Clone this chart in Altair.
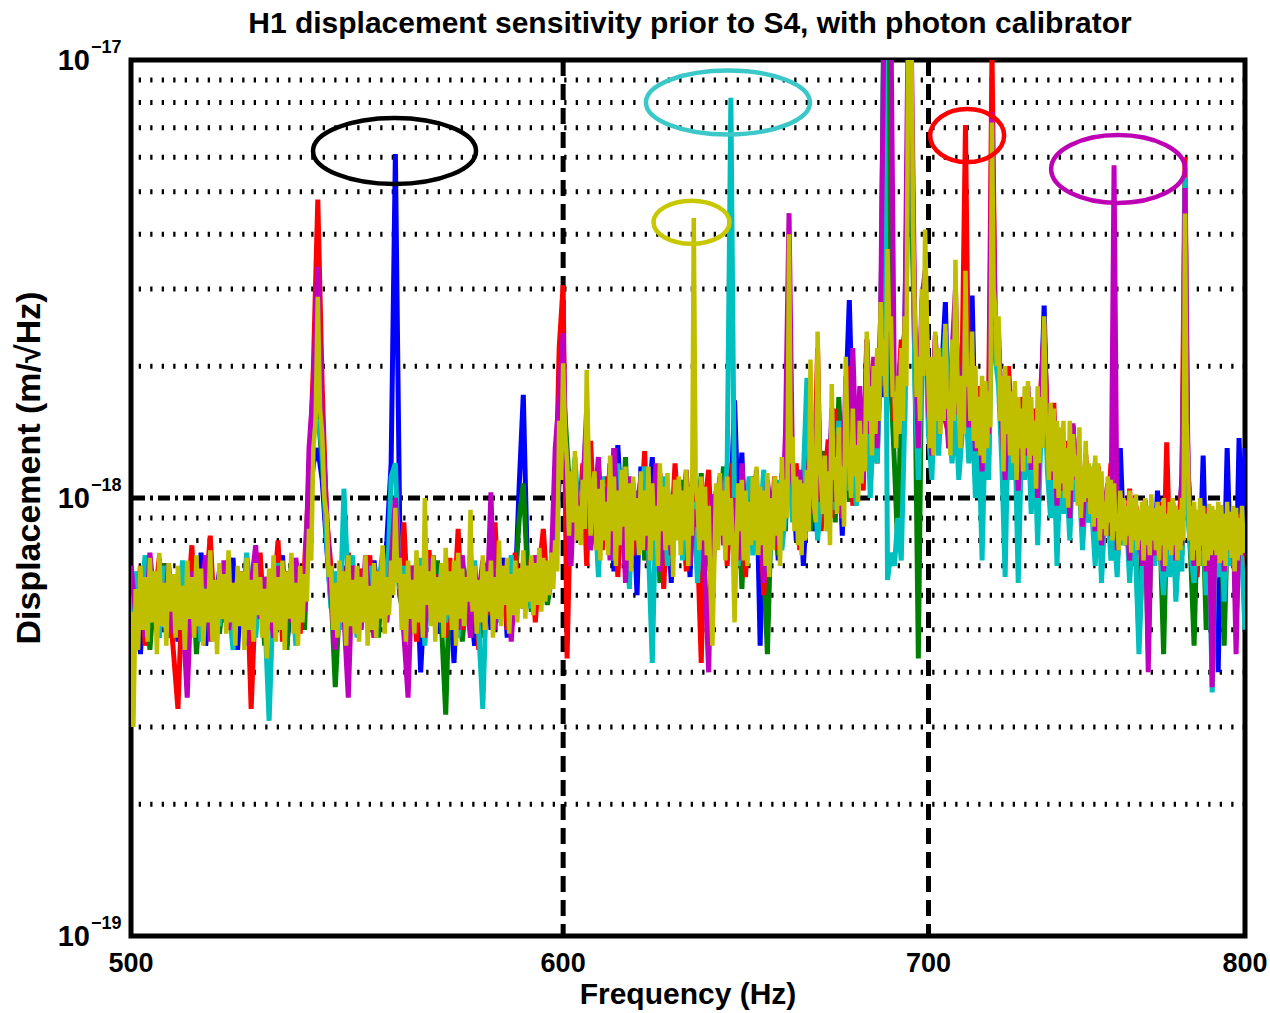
import altair as alt
import pandas as pd

# ---------------- data (amplitudes in units of 1e-20 m/sqrt(Hz)) ----------------
# blue/green/red/cyan/magenta traces: 1 Hz bins 500..800; yellow trace: 0.5 Hz bins 500..800
FREQ = list(range(500, 801))
YELLOW_FREQ = [500 + 0.5 * i for i in range(601)]
UNIT = 1e-20

BLUE = [
    58, 66, 44, 72, 55, 61, 48, 69, 53, 64,
    47, 70, 57, 62, 50, 75, 46, 63, 56, 68,
    52, 60, 73, 45, 67, 54, 49, 71, 58, 63,
    50, 66, 56, 74, 46, 61, 53, 69, 60, 95,
    120, 130, 110, 78, 58, 64, 52, 70, 48, 62,
    55, 68, 60, 50, 72, 57, 64, 80, 120, 610,
    90, 58, 66, 53, 71, 40, 62, 57, 74, 49,
    65, 55, 60, 42, 70, 52, 67, 58, 46, 63,
    56, 71, 50, 64, 59, 73, 48, 66, 62, 108,
    172, 70, 57, 66, 61, 74, 58, 68, 72, 110,
    150, 110, 92, 118, 80, 100, 140, 78, 95, 72,
    104, 86, 120, 68, 132, 90, 112, 76, 98, 60,
    118, 82, 94, 124, 70, 106, 88, 98, 64, 92,
    110, 74, 96, 66, 120, 88, 104, 70, 92, 62,
    100, 84, 112, 76, 98, 167, 92, 127, 70, 104,
    82, 116, 46, 98, 108, 88, 106, 72, 114, 90,
    140, 120, 80, 106, 70, 98, 120, 84, 104, 92,
    118, 86, 150, 96, 130, 82, 170, 283, 140, 100,
    160, 110, 210, 130, 180, 140, 230, 170, 300, 200,
    160, 130, 200, 240, 700, 600, 220, 150, 250, 300,
    170, 140, 220, 160, 200, 280, 130, 210, 190, 150,
    180, 200, 140, 290, 130, 160, 110, 175, 150, 400,
    240, 220, 140, 108, 180, 130, 165, 100, 150, 125,
    170, 110, 145, 98, 160, 275, 130, 106, 150, 95,
    140, 102, 125, 88, 146, 106, 120, 86, 112, 96,
    100, 82, 114, 76, 95, 104, 80, 88, 74, 130,
    84, 92, 70, 96, 78, 90, 68, 94, 76, 86,
    72, 104, 78, 66, 96, 75, 92, 70, 84, 112,
    300, 116, 82, 68, 90, 74, 125, 66, 92, 72,
    84, 40, 94, 67, 130, 75, 89, 64, 137, 78,
    130,
]

GREEN = [
    36, 60, 52, 68, 45, 63, 55, 71, 48, 60,
    66, 50, 58, 74, 44, 62, 53, 69, 57, 49,
    61, 70, 47, 64, 55, 72, 51, 60, 67, 46,
    58, 68, 52, 63, 45, 71, 56, 66, 50, 100,
    140, 160, 120, 85, 62, 37, 58, 68, 50, 64,
    60, 52, 70, 56, 63, 48, 68, 59, 74, 90,
    60, 54, 67, 49, 62, 70, 53, 64, 58, 72,
    51, 32, 66, 55, 68, 47, 60, 74, 56, 62,
    48, 65, 58, 70, 54, 61, 66, 50, 64, 90,
    108, 68, 55, 70, 60, 74, 57, 65, 80, 140,
    180, 130, 92, 112, 82, 104, 125, 88, 98, 70,
    108, 80, 118, 74, 96, 86, 124, 66, 102, 88,
    112, 72, 98, 84, 116, 64, 92, 106, 78, 100,
    84, 110, 70, 102, 94, 80, 114, 68, 98, 76,
    104, 88, 118, 72, 96, 84, 108, 62, 100, 90,
    112, 80, 98, 70, 44, 88, 104, 74, 96, 84,
    160, 96, 118, 78, 102, 140, 84, 120, 90, 106,
    128, 92, 150, 88, 170, 112, 130, 98, 146, 110,
    140, 124, 200, 110, 170, 130, 210, 1400, 1200, 180,
    120, 76, 180, 150, 600, 500, 200, 43, 210, 270,
    160, 130, 200, 145, 220, 150, 170, 140, 180, 130,
    160, 190, 130, 180, 115, 150, 105, 165, 125, 300,
    220, 190, 135, 100, 175, 125, 150, 95, 145, 120,
    165, 104, 140, 92, 155, 240, 125, 100, 142, 90,
    138, 98, 122, 86, 140, 108, 116, 82, 110, 94,
    96, 120, 104, 74, 92, 106, 78, 86, 70, 98,
    82, 94, 68, 90, 74, 48, 70, 92, 45, 84,
    70, 92, 76, 44, 88, 72, 96, 62, 80, 74,
    200, 96, 70, 46, 86, 72, 90, 50, 88, 70,
    82, 68, 90, 46, 84, 72, 88, 52, 86, 76,
    80,
]

RED = [
    62, 50, 70, 46, 66, 58, 73, 52, 60, 45,
    33, 64, 55, 78, 49, 67, 60, 82, 51, 63,
    57, 72, 48, 66, 54, 70, 33, 61, 75, 50,
    64, 58, 80, 47, 68, 55, 62, 49, 71, 110,
    200, 480, 180, 90, 70, 52, 64, 57, 75, 60,
    50, 69, 58, 74, 48, 66, 56, 72, 60, 85,
    64, 88, 55, 70, 47, 62, 58, 76, 52, 67,
    60, 48, 73, 56, 85, 50, 66, 59, 71, 45,
    68, 62, 54, 88, 57, 70, 50, 64, 75, 58,
    66, 60, 73, 52, 69, 85, 62, 66, 90, 220,
    306, 43, 110, 95, 88, 120, 70, 135, 84, 100,
    76, 112, 90, 130, 66, 98, 84, 108, 74, 104,
    92, 128, 70, 100, 86, 114, 62, 96, 80, 120,
    88, 102, 68, 94, 112, 78, 42, 98, 116, 72,
    96, 84, 106, 70, 120, 92, 80, 100, 66, 110,
    78, 104, 90, 60, 98, 84, 112, 76, 100, 88,
    130, 92, 120, 76, 104, 88, 150, 100, 220, 84,
    110, 136, 90, 160, 104, 150, 120, 200, 96, 130,
    170, 104, 230, 150, 190, 120, 260, 180, 300, 210,
    150, 170, 230, 190, 800, 700, 230, 140, 260, 320,
    150, 120, 230, 170, 190, 150, 140, 210, 260, 170,
    200, 710, 160, 210, 120, 180, 130, 170, 160, 1050,
    230, 200, 160, 120, 200, 150, 160, 105, 170, 140,
    175, 110, 160, 95, 180, 240, 150, 110, 165, 98,
    140, 100, 135, 92, 145, 104, 118, 84, 126, 96,
    98, 80, 118, 76, 102, 90, 120, 86, 72, 100,
    92, 78, 105, 70, 96, 84, 74, 99, 60, 88,
    80, 72, 98, 68, 134, 76, 90, 65, 86, 110,
    600, 100, 78, 94, 66, 88, 72, 95, 62, 84,
    80, 70, 96, 60, 88, 76, 82, 58, 92, 74,
    70,
]

CYAN = [
    50, 68, 56, 74, 52, 61, 48, 70, 58, 64,
    54, 72, 49, 60, 66, 47, 69, 57, 63, 51,
    70, 58, 45, 66, 53, 75, 60, 48, 64, 55,
    31, 62, 71, 50, 59, 68, 46, 65, 57, 120,
    150, 150, 130, 80, 56, 68, 50, 105, 62, 74,
    48, 66, 57, 70, 52, 63, 75, 58, 112, 120,
    62, 70, 50, 65, 57, 73, 46, 68, 60, 55,
    70, 52, 64, 58, 48, 67, 55, 62, 72, 50,
    33, 66, 58, 69, 52, 64, 60, 74, 55, 67,
    62, 70, 56, 64, 59, 72, 61, 68, 85, 130,
    170, 115, 96, 124, 88, 106, 150, 80, 100, 66,
    112, 90, 104, 72, 120, 84, 98, 62, 108, 86,
    94, 118, 76, 42, 100, 82, 112, 70, 96, 88,
    106, 72, 114, 86, 98, 64, 104, 90, 74, 100,
    84, 110, 96, 120, 820, 90, 70, 104, 86, 112,
    74, 100, 88, 116, 68, 96, 82, 110, 76, 92,
    130, 88, 104, 84, 112, 188, 96, 118, 80, 100,
    112, 84, 136, 94, 150, 90, 124, 104, 138, 96,
    130, 116, 180, 100, 150, 120, 200, 1500, 65, 75,
    70, 90, 72, 150, 900, 800, 180, 110, 200, 250,
    140, 110, 190, 125, 180, 240, 150, 120, 160, 110,
    140, 175, 120, 160, 100, 140, 72, 150, 110, 290,
    210, 180, 120, 66, 160, 110, 140, 64, 130, 110,
    150, 92, 135, 78, 140, 230, 115, 90, 130, 70,
    125, 92, 112, 80, 130, 98, 108, 76, 104, 88,
    92, 70, 106, 64, 90, 96, 72, 84, 66, 100,
    78, 90, 64, 86, 72, 44, 68, 88, 62, 80,
    70, 90, 74, 60, 86, 66, 94, 58, 78, 68,
    540, 92, 74, 64, 84, 70, 88, 60, 80, 36,
    74, 66, 88, 58, 80, 70, 86, 55, 84, 72,
    50,
]

MAGENTA = [
    70, 54, 63, 48, 75, 58, 66, 52, 71, 49,
    62, 56, 35, 68, 52, 60, 74, 47, 65, 55,
    72, 50, 61, 57, 68, 46, 63, 78, 53, 66,
    59, 48, 70, 56, 64, 52, 73, 60, 55, 130,
    180, 337, 150, 95, 60, 45, 66, 54, 35, 70,
    63, 50, 74, 57, 48, 68, 60, 52, 71, 100,
    66, 49, 35, 70, 56, 62, 48, 73, 58, 64,
    52, 69, 57, 62, 50, 74, 59, 48, 68, 60,
    72, 55, 103, 50, 66, 58, 70, 47, 64, 62,
    56, 68, 60, 74, 58, 66, 62, 70, 130, 170,
    238, 95, 70, 116, 80, 104, 160, 76, 98, 124,
    84, 106, 72, 130, 88, 100, 64, 112, 82, 94,
    110, 76, 98, 86, 120, 68, 96, 104, 74, 90,
    100, 82, 116, 70, 94, 86, 108, 66, 40, 102,
    88, 112, 78, 96, 84, 100, 72, 120, 90, 80,
    104, 86, 98, 64, 110, 90, 78, 102, 84, 140,
    447, 110, 90, 116, 80, 104, 130, 92, 180, 98,
    120, 86, 160, 98, 140, 90, 190, 130, 220, 120,
    180, 110, 230, 140, 210, 130, 260, 1300, 1300, 1200,
    170, 150, 210, 220, 1200, 1000, 240, 130, 280, 330,
    160, 125, 235, 160, 200, 165, 130, 215, 300, 155,
    185, 250, 145, 195, 128, 165, 115, 180, 140, 760,
    250, 240, 145, 110, 185, 135, 170, 104, 155, 125,
    180, 116, 150, 100, 168, 250, 136, 110, 155, 96,
    142, 104, 128, 90, 148, 110, 122, 86, 114, 98,
    102, 84, 116, 78, 96, 108, 82, 575, 76, 102,
    86, 94, 72, 98, 80, 92, 70, 96, 40, 88,
    74, 92, 80, 68, 90, 76, 98, 72, 86, 78,
    510, 118, 84, 70, 92, 76, 88, 68, 95, 37,
    86, 72, 96, 68, 83, 77, 91, 44, 88, 80,
    74,
]

YELLOW = [
    55, 30, 62, 45, 70, 50, 66, 47, 73, 52, 68, 44, 75, 51, 64, 46, 71, 55, 67, 48,
    70, 50, 63, 45, 72, 53, 66, 48, 74, 51, 69, 46, 62, 52, 76, 47, 65, 44, 71, 53,
    67, 49, 76, 52, 64, 46, 70, 51, 68, 45, 73, 50, 65, 47, 71, 54, 66, 48, 62, 43,
    69, 52, 74, 47, 66, 50, 72, 45, 68, 53, 75, 49, 64, 46, 70, 52, 67, 58, 85, 72,
    130, 150, 288, 160, 140, 100, 92, 66, 70, 50, 64, 48, 72, 52, 68, 46, 74, 51, 65, 49,
    70, 47, 66, 52, 74, 46, 63, 50, 71, 48, 68, 53, 78, 49, 66, 54, 72, 60, 95, 64,
    73, 50, 67, 47, 72, 53, 65, 49, 76, 52, 70, 48, 100, 57, 68, 51, 74, 47, 66, 52,
    71, 48, 77, 54, 68, 50, 72, 46, 75, 53, 69, 51, 66, 58, 94, 55, 70, 49, 65, 52,
    74, 50, 68, 55, 72, 48, 66, 53, 80, 51, 70, 57, 73, 49, 67, 54, 72, 52, 69, 56,
    76, 53, 70, 58, 74, 54, 71, 57, 77, 55, 73, 58, 72, 60, 75, 62, 80, 68, 150, 110,
    203, 140, 120, 82, 115, 88, 128, 80, 96, 78, 110, 85, 196, 120, 82, 104, 115, 76, 105, 72,
    110, 80, 98, 74, 125, 84, 112, 70, 104, 78, 116, 86, 118, 72, 108, 68, 112, 80, 100, 74,
    115, 76, 104, 82, 118, 72, 108, 80, 96, 70, 120, 84, 106, 76, 114, 78, 102, 66, 110, 80,
    112, 74, 104, 80, 116, 70, 106, 82, 436, 110, 98, 76, 112, 80, 106, 74, 96, 62, 46, 70,
    108, 76, 114, 82, 104, 72, 112, 78, 100, 80, 52, 74, 108, 84, 110, 72, 104, 70, 98, 78,
    112, 80, 118, 74, 106, 78, 104, 70, 114, 66, 100, 76, 112, 82, 108, 70, 124, 84, 110, 90,
    400, 120, 138, 84, 112, 78, 110, 74, 108, 80, 116, 84, 207, 120, 96, 88, 240, 130, 110, 92,
    125, 84, 115, 78, 182, 110, 124, 92, 145, 96, 118, 86, 210, 130, 118, 100, 160, 112, 132, 98,
    150, 108, 140, 115, 240, 150, 180, 125, 200, 140, 220, 150, 280, 190, 230, 170, 370, 240, 260, 170,
    175, 130, 190, 140, 220, 150, 260, 180, 1100, 700, 1050, 400, 250, 170, 210, 150, 300, 190, 410, 260,
    180, 130, 210, 125, 240, 150, 220, 140, 210, 150, 250, 160, 175, 125, 230, 150, 350, 200, 160, 130,
    190, 140, 330, 180, 200, 150, 240, 135, 200, 130, 170, 125, 190, 120, 185, 130, 175, 145, 720, 300,
    270, 200, 260, 150, 190, 115, 200, 140, 190, 125, 175, 120, 185, 110, 170, 130, 160, 115, 180, 130,
    185, 120, 170, 125, 150, 105, 180, 120, 170, 130, 260, 150, 140, 110, 165, 115, 160, 105, 150, 100,
    145, 108, 150, 100, 130, 95, 150, 104, 140, 112, 125, 96, 145, 90, 118, 98, 135, 100, 120, 92,
    118, 86, 125, 90, 120, 80, 115, 85, 98, 82, 112, 88, 110, 80, 108, 84, 92, 76, 104, 80,
    100, 78, 96, 82, 104, 75, 100, 80, 102, 76, 94, 80, 98, 72, 100, 78, 96, 74, 102, 80,
    95, 76, 98, 72, 96, 78, 100, 70, 92, 76, 98, 74, 100, 78, 96, 72, 94, 76, 100, 80,
    446, 150, 120, 80, 96, 72, 98, 76, 94, 70, 100, 78, 96, 70, 92, 72, 97, 74, 96, 76,
    94, 74, 98, 71, 96, 72, 92, 70, 98, 76, 93, 73, 96, 68, 95, 72, 90, 74, 96, 78,
    75,
]

SERIES_NAMES = ["blue", "green", "red", "cyan", "magenta", "yellow"]
SERIES_VALUES = [BLUE, GREEN, RED, CYAN, MAGENTA, YELLOW]
SERIES_FREQ = [FREQ, FREQ, FREQ, FREQ, FREQ, YELLOW_FREQ]

# annotation ellipses: centre frequency (Hz), centre amplitude (m/sqrt(Hz))
ELLIPSE_F = [558.8, 643.2, 633.4, 711.5, 758.3]
ELLIPSE_A = [6.2e-18, 8.0e-18, 4.26e-18, 6.72e-18, 5.64e-18]

X_TICKS = [500, 600, 700, 800]
Y_TICKS = [1e-17, 1e-18, 1e-19]
Y_EXPONENTS = ["\u221217", "\u221218", "\u221219"]
MINOR_GRID = [2e-19, 3e-19, 4e-19, 5e-19, 6e-19, 7e-19, 8e-19, 9e-19,
              2e-18, 3e-18, 4e-18, 5e-18, 6e-18, 7e-18, 8e-18, 9e-18]
MAJOR_GRID_Y = [1e-18]
MAJOR_GRID_X = [600, 700]

TITLE = "H1 displacement sensitivity prior to S4, with photon calibrator"
X_TITLE = "Frequency (Hz)"
Y_TITLE = "Displacement (m/\u221aHz)"

# ---------------- styling ----------------
W, H = 1114, 876
FONT = "Liberation Sans"
LINE_COLORS = {"blue": "#0000FF", "green": "#008000", "red": "#FF0000",
               "cyan": "#00BFBF", "magenta": "#BF00BF", "yellow": "#BFBF00"}
ELLIPSE_STYLE = [  # (colour, width px, height px)
    ("#000000", 163, 66),
    ("#3CC8C8", 164, 64),
    ("#C8C800", 76, 43),
    ("#FF0000", 74, 53),
    ("#BE00B4", 134, 68),
]

X_SCALE = alt.Scale(type="log", domain=[500, 800], nice=False)
Y_SCALE = alt.Scale(type="log", domain=[1e-19, 1e-17], nice=False)


def xenc(field="f"):
    return alt.X(f"{field}:Q", scale=X_SCALE, axis=None)


def yenc(field="v"):
    return alt.Y(f"{field}:Q", scale=Y_SCALE, axis=None)


layers = []

# grid
layers.append(
    alt.Chart(pd.DataFrame({"v": MINOR_GRID}))
    .mark_rule(color="black", strokeWidth=5, strokeDash=[2.3, 9.2])
    .encode(y=yenc())
)
layers.append(
    alt.Chart(pd.DataFrame({"v": MAJOR_GRID_Y}))
    .mark_rule(color="black", strokeWidth=5, strokeDash=[12, 5, 3, 5])
    .encode(y=yenc())
)
layers.append(
    alt.Chart(pd.DataFrame({"f": MAJOR_GRID_X}))
    .mark_rule(color="black", strokeWidth=5, strokeDash=[16, 8])
    .encode(x=xenc())
)

# spectra
for name, freqs, vals in zip(SERIES_NAMES, SERIES_FREQ, SERIES_VALUES):
    assert len(vals) == len(freqs), (name, len(vals), len(freqs))
    df = pd.DataFrame({"f": freqs, "v": [x * UNIT for x in vals]})
    layers.append(
        alt.Chart(df)
        .mark_line(color=LINE_COLORS[name], strokeWidth=5 if name != "yellow" else 4.5,
                   clip=True, strokeJoin="bevel")
        .encode(x=xenc(), y=yenc())
    )

# ellipses
for fc, ac, (col, ew, eh) in zip(ELLIPSE_F, ELLIPSE_A, ELLIPSE_STYLE):
    r = eh / ew
    path = f"M-1,0A1,{r:.4f} 0 1,1 1,0A1,{r:.4f} 0 1,1 -1,0Z"
    layers.append(
        alt.Chart(pd.DataFrame({"f": [fc], "v": [ac]}))
        .mark_point(shape=path, size=ew * ew, filled=False, stroke=col,
                    strokeWidth=4.5, opacity=1)
        .encode(x=xenc(), y=yenc())
    )

# x tick labels
layers.append(
    alt.Chart(pd.DataFrame({"f": X_TICKS, "label": [str(t) for t in X_TICKS]}))
    .mark_text(font=FONT, fontSize=27, fontWeight="bold", color="black",
               align="center", baseline="alphabetic")
    .encode(x=xenc(), y=alt.value(H + 36), text="label:N")
)

# y tick labels (10 with superscript exponent)
ydf = pd.DataFrame({"v": Y_TICKS, "base": ["10"] * len(Y_TICKS), "exp": Y_EXPONENTS})
layers.append(
    alt.Chart(ydf)
    .mark_text(font=FONT, fontSize=29, fontWeight="bold", color="black",
               align="right", baseline="alphabetic", dy=10)
    .encode(x=alt.value(-41), y=yenc(), text="base:N")
)
layers.append(
    alt.Chart(ydf)
    .mark_text(font=FONT, fontSize=18, fontWeight="bold", color="black",
               align="left", baseline="alphabetic", dy=-7)
    .encode(x=alt.value(-40), y=yenc(), text="exp:N")
)

# titles
layers.append(
    alt.Chart(pd.DataFrame({"t": [TITLE]}))
    .mark_text(font=FONT, fontSize=30, fontWeight="bold", color="black",
               align="center", baseline="alphabetic")
    .encode(x=alt.value(559), y=alt.value(-27), text="t:N")
)
layers.append(
    alt.Chart(pd.DataFrame({"t": [X_TITLE]}))
    .mark_text(font=FONT, fontSize=30, fontWeight="bold", color="black",
               align="center", baseline="alphabetic")
    .encode(x=alt.value(557), y=alt.value(H + 68), text="t:N")
)
layers.append(
    alt.Chart(pd.DataFrame({"t": [Y_TITLE]}))
    .mark_text(font=FONT, fontSize=34, fontWeight="bold", color="black",
               align="center", baseline="alphabetic", angle=270)
    .encode(x=alt.value(-91), y=alt.value(408), text="t:N")
)

chart = (
    alt.layer(*layers)
    .properties(
        width=W,
        height=H,
        padding={"left": 131, "top": 60, "right": 25, "bottom": 77},
        autosize=alt.AutoSizeParams(type="none"),
        background="white",
    )
    .configure_view(stroke="black", strokeWidth=5)
)

chart.save("out.html", embed_options={"renderer": "svg", "actions": False})
